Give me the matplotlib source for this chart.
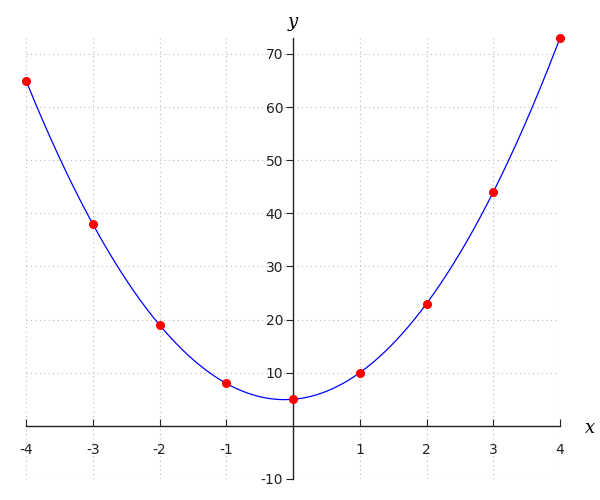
import numpy as np
import matplotlib
matplotlib.use("Agg")
import matplotlib.pyplot as plt

# data points
xs = [-4, -3, -2, -1, 0, 1, 2, 3, 4]
ys = [65, 38, 19, 8, 5, 10, 23, 44, 73]

xticks = [-4, -3, -2, -1, 1, 2, 3, 4]
yticks = [-10, 10, 20, 30, 40, 50, 60, 70]

# least squares quadratic through the points
coef = np.polyfit(xs, ys, 2)
xx = np.linspace(-4, 4, 400)
yy = np.polyval(coef, xx)

fig = plt.figure(figsize=(6, 5), dpi=100)
ax = fig.add_axes([26 / 600, 1 - 479 / 500, 534 / 600, 441 / 500])

ax.plot(xx, yy, color="blue", lw=0.9, zorder=3, clip_on=False)
ax.plot(xs, ys, "o", color="red", ms=5.5, zorder=4, clip_on=False)

ax.set_xlim(-4, 4)
ax.set_ylim(-10, 73)

ax.spines["left"].set_position(("data", 0))
ax.spines["bottom"].set_position(("data", 0))
ax.spines["right"].set_visible(False)
ax.spines["top"].set_visible(False)
for s in ("left", "bottom"):
    ax.spines[s].set_linewidth(1.0)
    ax.spines[s].set_color("#222222")

ax.set_xticks(xticks)
ax.set_yticks(yticks)
ax.set_xticklabels([str(t) for t in xticks])
ax.set_yticklabels([str(t) for t in yticks])
ax.tick_params(axis="x", direction="in", length=5, pad=12, labelsize=10,
               colors="#222222")
ax.tick_params(axis="y", direction="out", length=5, pad=2, labelsize=10,
               colors="#222222")

for t in [-4, -3, -2, -1, 1, 2, 3, 4]:
    ax.axvline(t, color="#bbbbbb", lw=0.8, ls=(0, (1, 3)), zorder=1)
for t in yticks:
    ax.axhline(t, color="#bbbbbb", lw=0.8, ls=(0, (1, 3)), zorder=1)

ax.text(4.45, -0.4, "x", family="serif", style="italic", fontsize=13,
        ha="center", va="center")
ax.text(0, 76, "y", family="serif", style="italic", fontsize=13,
        ha="center", va="center")

fig.savefig("out.png", dpi=100)
